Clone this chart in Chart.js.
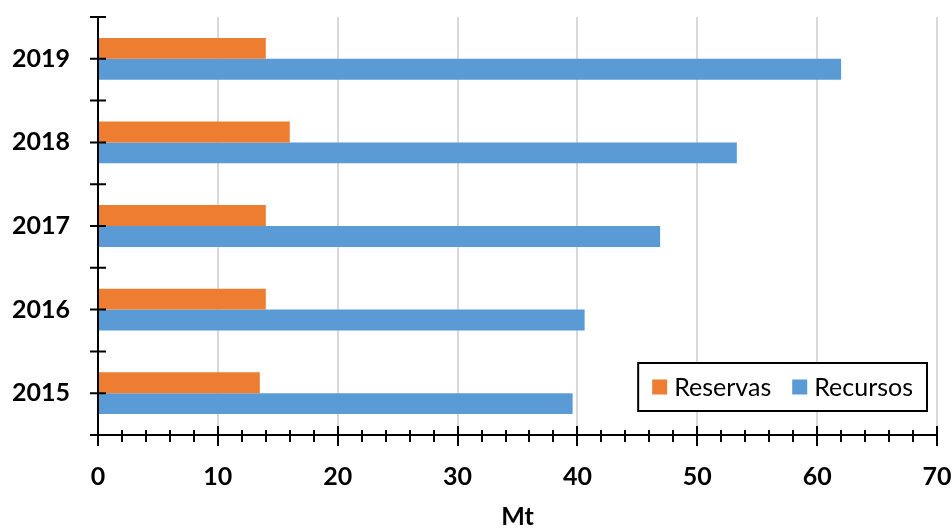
<!DOCTYPE html>
<html>
<head>
<meta charset="utf-8">
<script src="https://cdn.jsdelivr.net/npm/chart.js@4"></script>
<style>
  html, body { margin: 0; padding: 0; background: #ffffff; }
  #wrap { width: 952px; height: 532px; position: relative; }
</style>
</head>
<body>
<div id="wrap"><canvas id="c" width="952" height="532"></canvas></div>
<script>
// Years, listed from top to bottom of the chart
const years = ['2019', '2018', '2017', '2016', '2015'];
// Reserves and resources, in million tonnes
const reservas = [14.0, 16.0, 14.0, 14.0, 13.5];
const recursos = [62.0, 53.3, 46.9, 40.6, 39.6];
const seriesNames = ['Reservas', 'Recursos'];
const xTicks = [0, 10, 20, 30, 40, 50, 60, 70];
const axisTitle = 'Mt';

const ORANGE = '#ED7D31';
const BLUE = '#5B9BD5';
const FONT = 'Lato, "Open Sans", sans-serif';

function noScalePadding(scale) {
  scale.paddingTop = 0; scale.paddingBottom = 0;
  scale.paddingLeft = 0; scale.paddingRight = 0;
}

// Cross-style tick marks on both axes (major + minor on x, centre + boundary on y)
const axisTicks = {
  id: 'axisTicks',
  afterDraw(chart) {
    const ctx = chart.ctx;
    const xs = chart.scales.x, ys = chart.scales.y;
    const area = chart.chartArea;
    ctx.save();
    ctx.strokeStyle = '#000';
    ctx.lineWidth = 2;
    ctx.beginPath();
    // y axis: a mark at each category centre and at each band edge
    const n = chart.data.labels.length;
    const band = (ys.bottom - ys.top) / n;
    for (let i = 0; i < n; i++) {
      const c = ys.getPixelForValue(i);
      [c - band / 2, c].forEach(p => {
        ctx.moveTo(area.left - 8, p); ctx.lineTo(area.left + 8, p);
      });
    }
    ctx.moveTo(area.left - 8, ys.bottom); ctx.lineTo(area.left + 8, ys.bottom);
    // x axis: major marks every 10, minor every 2
    for (let v = xs.min; v <= xs.max + 1e-9; v += 2) {
      const p = Math.round(xs.getPixelForValue(v));
      const major = Math.abs(v % 10) < 1e-9;
      ctx.moveTo(p, area.bottom - (major ? 9 : 5));
      ctx.lineTo(p, area.bottom + (major ? 11 : 7));
    }
    ctx.stroke();
    ctx.restore();
  }
};

// Boxed legend sitting inside the lower right of the plot
const boxLegend = {
  id: 'boxLegend',
  afterDraw(chart) {
    const ctx = chart.ctx;
    const area = chart.chartArea;
    const ds = chart.data.datasets;
    ctx.save();
    ctx.font = '25px ' + FONT;
    ctx.textBaseline = 'middle';
    const sw = 15, gapSw = 7, gapItem = 21, padX = 14;
    let w = padX * 2;
    ds.forEach((d, i) => {
      w += sw + gapSw + ctx.measureText(d.label).width + (i < ds.length - 1 ? gapItem : 0);
    });
    const h = 48;
    const right = area.right - 10;
    const bottom = area.bottom - 24;
    const left = right - w, top = bottom - h;
    ctx.fillStyle = '#fff';
    ctx.fillRect(left, top, w, h);
    ctx.strokeStyle = '#000';
    ctx.lineWidth = 2;
    ctx.strokeRect(left, top, w, h);
    let x = left + padX;
    const cy = top + h / 2;
    ds.forEach(d => {
      ctx.fillStyle = d.backgroundColor;
      ctx.fillRect(x, cy - sw / 2, sw, sw);
      x += sw + gapSw;
      ctx.fillStyle = '#000';
      ctx.fillText(d.label, x, cy + 1);
      x += ctx.measureText(d.label).width + gapItem;
    });
    ctx.restore();
  }
};

new Chart(document.getElementById('c'), {
  type: 'bar',
  data: {
    labels: years,
    datasets: [
      { label: seriesNames[0], data: reservas, backgroundColor: ORANGE },
      { label: seriesNames[1], data: recursos, backgroundColor: BLUE }
    ]
  },
  options: {
    indexAxis: 'y',
    responsive: false,
    animation: false,
    layout: { padding: { top: 17, right: 15, left: 0, bottom: 0 } },
    datasets: { bar: { categoryPercentage: 0.5, barPercentage: 1.0 } },
    plugins: { legend: { display: false }, tooltip: { enabled: false } },
    scales: {
      x: {
        min: 0, max: 70,
        afterBuildTicks(scale) { scale.ticks = xTicks.map(v => ({ value: v })); },
        afterFit(scale) { scale.height = 97; noScalePadding(scale); },
        grid: { color: '#d9d9d9', lineWidth: 2, drawTicks: false },
        border: { color: '#000', width: 2 },
        ticks: { color: '#000', font: { family: FONT, size: 25, weight: 'bold' }, padding: 27, maxRotation: 0 },
        title: { display: true, text: axisTitle, color: '#000', font: { family: FONT, size: 25, weight: 'bold' }, padding: { top: 0, bottom: 0 } }
      },
      y: {
        afterFit(scale) { scale.width = 98; noScalePadding(scale); },
        grid: { display: false, drawTicks: false },
        border: { color: '#000', width: 2 },
        ticks: { color: '#000', font: { family: FONT, size: 25, weight: 'bold' }, padding: 28 }
      }
    }
  },
  plugins: [axisTicks, boxLegend]
});
</script>
</body>
</html>
